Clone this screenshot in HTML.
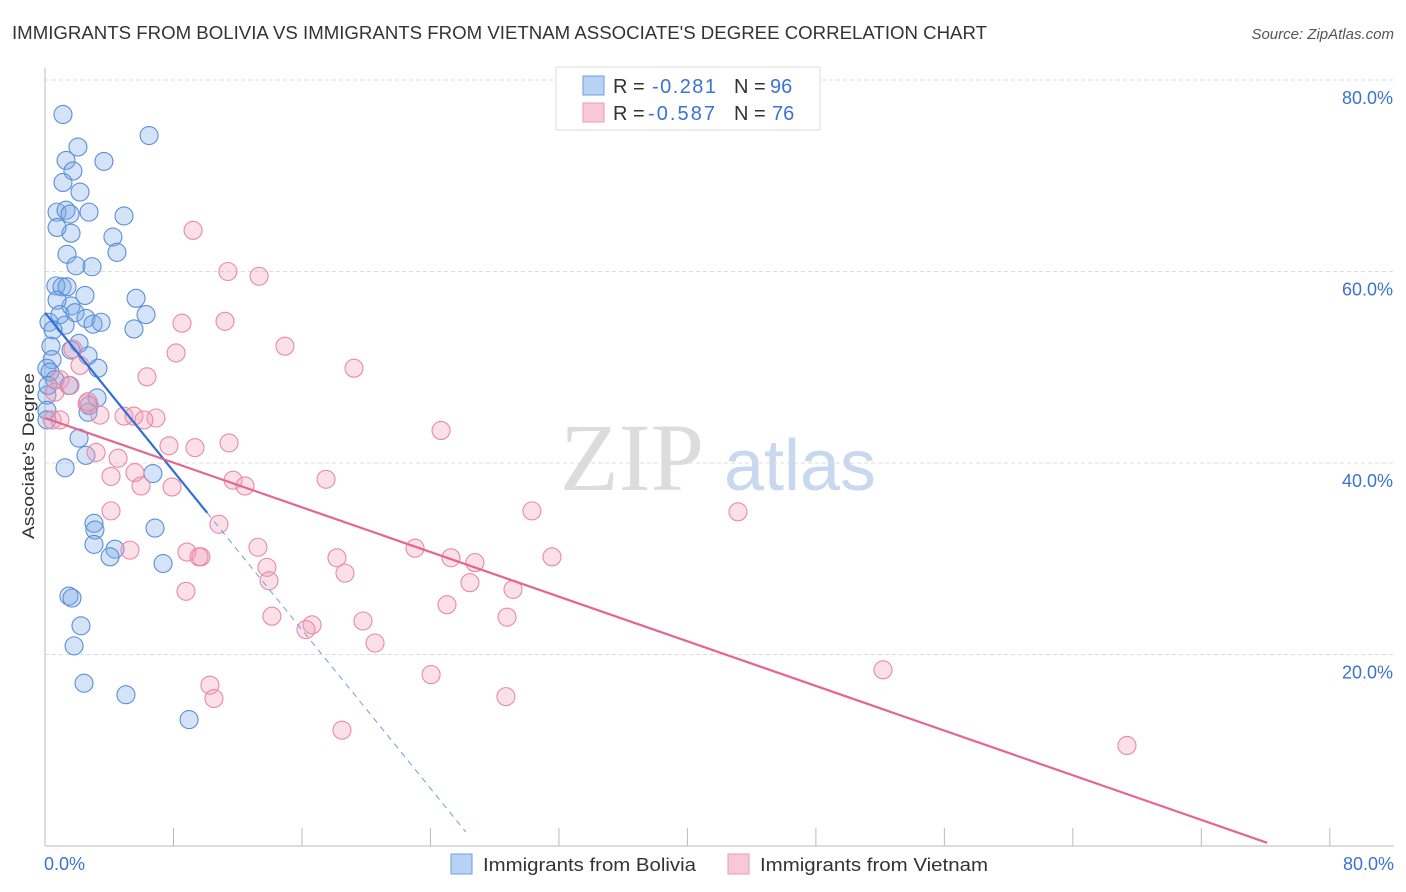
<!DOCTYPE html>
<html><head><meta charset="utf-8"><style>
body{margin:0;background:#fff;font-family:"Liberation Sans",sans-serif;}
</style></head><body>
<svg id="chart" width="1406" height="892" xmlns="http://www.w3.org/2000/svg" style="display:block">
<text x="12" y="39" font-size="18" fill="#333" textLength="975" lengthAdjust="spacingAndGlyphs">IMMIGRANTS FROM BOLIVIA VS IMMIGRANTS FROM VIETNAM ASSOCIATE'S DEGREE CORRELATION CHART</text>
<text x="1394" y="39" font-size="15" fill="#555" font-style="italic" text-anchor="end">Source: ZipAtlas.com</text>
<g>
<text x="632" y="490" font-size="96" fill="#dcdcdc" font-family="Liberation Serif,serif" text-anchor="middle">ZIP</text>
<text x="800" y="490" font-size="72" fill="#c8d8ee" text-anchor="middle">atlas</text>
</g>
<g id="grid"></g><g id="axes"></g><g id="pts"></g><g id="lines"></g>
<text transform="translate(34,456) rotate(-90)" font-size="17" fill="#333" text-anchor="middle" textLength="166" lengthAdjust="spacingAndGlyphs">Associate's Degree</text>
<g>
<rect x="556" y="67" width="264" height="63" fill="#fff" stroke="#ddd"/>
<rect x="583" y="76" width="21" height="19" fill="#b8d2f4" stroke="#6f9ee0"/>
<rect x="583" y="103" width="21" height="19" fill="#f8c8d6" stroke="#ec9ab4"/>
<text x="613" y="93" font-size="20" fill="#333">R =</text>
<text x="652" y="93" font-size="20" fill="#3b73d0" textLength="64">-0.281</text>
<text x="734" y="93" font-size="20" fill="#333">N =</text>
<text x="770" y="93" font-size="20" fill="#3b73d0">96</text>
<text x="613" y="120" font-size="20" fill="#333">R =</text>
<text x="648" y="120" font-size="20" fill="#3b73d0" textLength="67">-0.587</text>
<text x="734" y="120" font-size="20" fill="#333">N =</text>
<text x="772" y="120" font-size="20" fill="#3b73d0">76</text>
</g>
<g>
<rect x="451" y="854" width="21" height="20" fill="#b8d2f4" stroke="#6f9ee0"/>
<text x="483" y="871" font-size="18" fill="#333" textLength="213" lengthAdjust="spacingAndGlyphs">Immigrants from Bolivia</text>
<rect x="728" y="854" width="21" height="20" fill="#f8c8d6" stroke="#ec9ab4"/>
<text x="760" y="871" font-size="18" fill="#333" textLength="228" lengthAdjust="spacingAndGlyphs">Immigrants from Vietnam</text>
</g>
</svg>
<script>
const xTicks=[0,8,16,24,32,40,48,56,64,72,80];
const yTicks=[20,40,60,80];
const blueX=[1.12,6.48,2.05,1.31,3.67,1.74,1.12,2.18,4.92,0.75,2.74,1.31,1.56,0.75,1.62,4.23,1.37,4.48,1.93,2.93,0.68,1.06,1.37,2.49,5.67,1.62,0.75,6.29,0.93,1.87,0.25,2.55,2.99,3.49,1.25,5.54,0.5,2.12,0.37,1.62,2.68,0.44,3.3,0.12,0.31,1.49,0.62,3.24,0.12,2.74,0.12,2.68,2.12,2.55,1.25,6.72,6.85,3.05,3.11,3.05,4.36,4.05,7.35,1.49,1.68,2.24,1.81,2.43,5.04,8.97,0.12,0.19];
const blueY=[76.4,74.2,73.0,71.6,71.5,70.5,69.3,68.3,65.8,66.2,66.2,66.4,66.0,64.6,64.0,63.6,61.8,62.0,60.6,60.5,58.5,58.4,58.4,57.5,57.2,56.4,57.0,55.5,55.5,55.7,54.7,55.1,54.5,54.7,54.4,54.0,53.9,52.5,52.2,51.8,51.2,50.8,49.9,49.9,49.5,48.1,48.7,46.8,47.1,46.0,45.5,45.3,42.6,40.8,39.5,38.9,33.2,33.7,33.0,31.5,31.0,30.2,29.5,26.1,25.9,23.0,20.9,17.0,15.8,13.2,44.5,48.1];
const pinkX=[9.22,11.39,13.33,8.53,11.21,14.94,8.16,19.24,6.35,1.74,2.18,0.93,0.62,2.62,2.68,4.92,5.54,6.91,6.16,24.66,7.72,11.46,9.34,3.18,4.55,4.11,5.6,11.71,12.45,5.98,7.91,17.5,30.32,43.15,4.11,10.83,13.26,8.84,5.29,23.04,9.71,9.59,18.18,25.28,26.77,31.57,13.82,18.68,13.95,26.46,29.14,8.78,25.03,14.13,28.77,19.8,16.63,16.25,20.55,52.18,24.04,10.27,10.52,28.7,18.49,67.37,0.44,0.93,1.56,3.42];
const pinkY=[64.3,60.0,59.5,54.6,54.8,52.2,51.5,49.9,49.0,51.9,50.2,48.7,47.4,46.2,46.4,44.9,44.9,44.7,44.5,43.4,41.8,42.1,41.6,41.1,40.5,38.6,39.0,38.2,37.6,37.6,37.5,38.3,35.0,34.9,35.0,33.6,31.2,30.7,30.9,31.1,30.2,30.2,30.1,30.1,29.6,30.2,29.1,28.5,27.7,27.5,26.8,26.6,25.2,24.0,23.9,23.5,23.1,22.6,21.2,18.4,17.9,16.8,15.4,15.6,12.1,10.5,44.5,44.5,48.1,45.0];
const blueFit=[55.7,-2.07,10.1,26.2];
const pinkFit=[44.7,-0.583,76.1];
const X=v=>45+v*16.06, Y=v=>846-v*9.575;
const NS='http://www.w3.org/2000/svg';
function mk(p,t,a){const e=document.createElementNS(NS,t);for(const k in a)e.setAttribute(k,a[k]);document.getElementById(p).appendChild(e);return e;}
yTicks.forEach(t=>{
 const l=mk('grid','line',{x1:45,x2:1394,y1:Y(t),y2:Y(t),stroke:'#ddd','stroke-dasharray':'4,3'});
 
 
 const tx=mk('axes','text',{x:1393,y:Y(t)+24,'font-size':18,fill:'#3b73d0','text-anchor':'end'});
 tx.textContent=t.toFixed(1)+'%';
 
 
});
const ax=mk('axes','line',{x1:45,x2:1394,y1:846,y2:846,stroke:'#bbb'});


const ay=mk('axes','line',{x1:45,x2:45,y1:68,y2:846,stroke:'#bbb'});


xTicks.forEach(t=>{
 const l=mk('axes','line',{x1:X(t),x2:X(t),y1:828,y2:846,stroke:'#bbb'});
 
 
});
[[0,'start'],[80,'end']].forEach(([t,a])=>{
 const tx=mk('axes','text',{x:t==0?44:1394,y:870,'font-size':18,fill:'#3b73d0','text-anchor':a});
 tx.textContent=t.toFixed(1)+'%';
 
 
});
blueX.forEach((v,i)=>{
 const c=mk('pts','circle',{cx:X(v),cy:Y(blueY[i]),r:9,fill:'rgba(120,168,230,0.32)',stroke:'#5b8fd8','stroke-width':1.1});
 
 
});
pinkX.forEach((v,i)=>{
 const c=mk('pts','circle',{cx:X(v),cy:Y(pinkY[i]),r:9,fill:'rgba(244,160,185,0.32)',stroke:'#e88aa5','stroke-width':1.1});
 
 
});
const b1=mk('lines','line',{x1:X(0),y1:Y(blueFit[0]),x2:X(blueFit[2]),y2:Y(blueFit[0]+blueFit[1]*blueFit[2]),stroke:'#2f6fd6','stroke-width':2.2});


const b2=mk('lines','line',{x1:X(blueFit[2]),y1:Y(blueFit[0]+blueFit[1]*blueFit[2]),x2:X(blueFit[3]),y2:Y(blueFit[0]+blueFit[1]*blueFit[3]),stroke:'#6f9ee0','stroke-width':1,'stroke-dasharray':'6,5'});


const p1=mk('lines','line',{x1:X(0),y1:Y(pinkFit[0]),x2:X(pinkFit[2]),y2:Y(pinkFit[0]+pinkFit[1]*pinkFit[2]),stroke:'#e6658f','stroke-width':2.2});


</script>
</body></html>
